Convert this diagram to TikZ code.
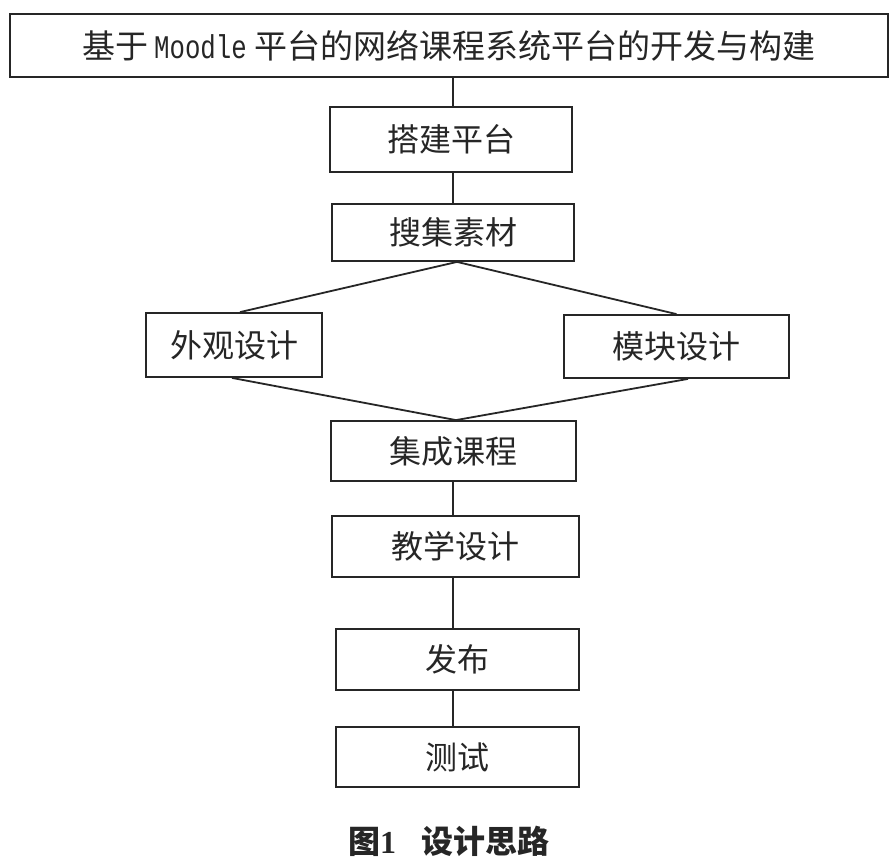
\documentclass[tikz,border=0pt]{standalone}
\usepackage{graphicx}
\usepackage{fontspec}
\newfontfamily\cjk{Noto Sans CJK SC}
\newfontfamily\monof{Liberation Mono}
\newfontfamily\serifb{Liberation Serif}
\begin{document}
\begin{tikzpicture}[x=1pt,y=-1pt,
  box/.style={draw=black!85,line width=1.8pt,fill=white,inner sep=0pt,
    font=\cjk\fontsize{32}{32}\selectfont,text=black!85},
  link/.style={draw=black!85,line width=1.8pt}]
\useasboundingbox[fill=white] (0,0) rectangle (895,865);
\node[box,minimum width=878pt,minimum height=63pt,font=\cjk\fontsize{33}{33}\selectfont] (title) at (449,45.5)
  {基于\hspace{6pt}\scalebox{0.78}[1]{\monof\fontsize{33}{33}\selectfont Moodle}\hspace{8pt}平台的网络课程系统平台的开发与构建};
\node[box,minimum width=242pt,minimum height=65pt] (t1) at (451,139.5) {搭建平台};
\node[box,minimum width=242pt,minimum height=57pt] (t2) at (453,232.5) {搜集素材};
\node[box,minimum width=176pt,minimum height=64pt] (left) at (234,345) {外观设计};
\node[box,minimum width=225pt,minimum height=63pt] (right) at (676.5,346.5) {模块设计};
\node[box,minimum width=245pt,minimum height=60pt] (t3) at (453.5,451) {集成课程};
\node[box,minimum width=247pt,minimum height=61pt] (t4) at (455.5,546.5) {教学设计};
\node[box,minimum width=243pt,minimum height=61pt] (t5) at (457.5,659.5) {发布};
\node[box,minimum width=243pt,minimum height=60pt] (t6) at (457.5,757) {测试};
\node[font=\cjk\bfseries\fontsize{32}{32}\selectfont,text=black!85] (cap) at (449,841)
  {图{\serifb\bfseries 1}\hspace{0.8em}设计思路};
\draw[link] ([xshift=2pt]t1.north) -- ([xshift=2pt]t1.north |- title.south);
\draw[link] (t2.north) -- (t2.north |- t1.south);
\draw[link] ([xshift=4pt]t2.south) -- ([xshift=6pt]left.north);
\draw[link] ([xshift=4pt]t2.south) -- (right.north);
\draw[link] ([xshift=-2pt]left.south) -- ([xshift=2.5pt]t3.north);
\draw[link] ([xshift=11.5pt]right.south) -- ([xshift=2.5pt]t3.north);
\draw[link] ([xshift=-0.5pt]t3.south) -- ([xshift=-0.5pt]t3.south |- t4.north);
\draw[link] ([xshift=-2.5pt]t4.south) -- ([xshift=-2.5pt]t4.south |- t5.north);
\draw[link] ([xshift=-4.5pt]t5.south) -- ([xshift=-4.5pt]t6.north);
\end{tikzpicture}
\end{document}
